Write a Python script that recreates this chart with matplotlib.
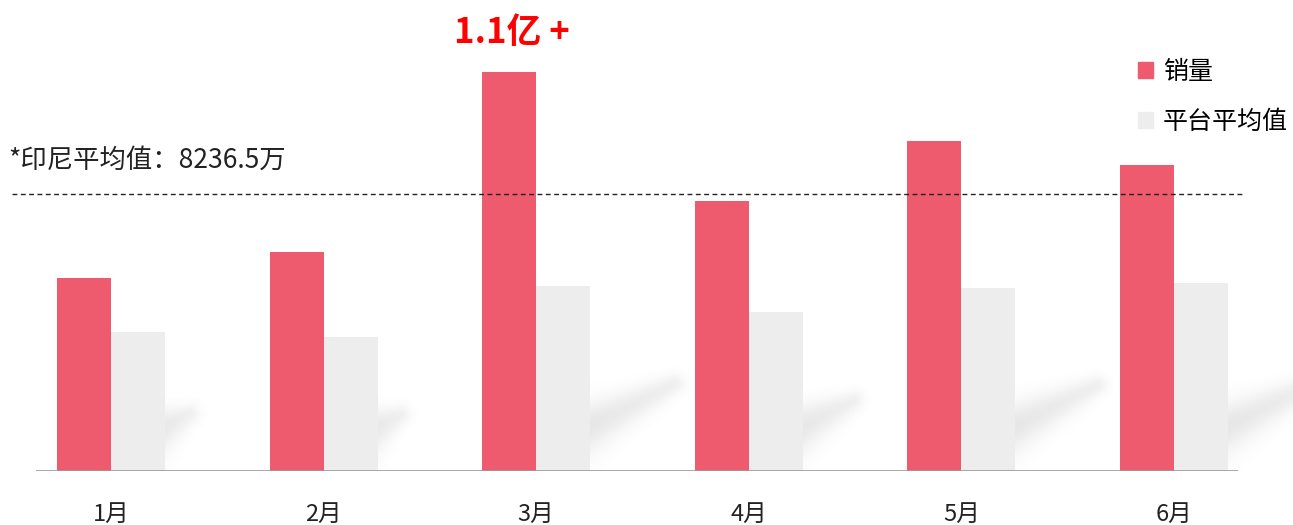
import numpy as np
import matplotlib
matplotlib.use('Agg')
import matplotlib.pyplot as plt
from matplotlib.patches import Patch

plt.rcParams['font.family'] = ['Noto Sans CJK SC', 'DejaVu Sans']

# datos (万)
meses = ['1月', '2月', '3月', '4月', '5月', '6月']
ventas = [5740, 6510, 11860, 8030, 9810, 9100]
plataforma = [4130, 3980, 5500, 4730, 5440, 5590]
promedio = 8236.5

rojo = '#EF5B6E'
gris = '#EDEDED'

fig = plt.figure(figsize=(12.93, 5.25), dpi=100)
ax = fig.add_axes([12/1293, 54/525, 1233/1293, 471/525])

x = np.arange(len(meses))
ancho = 0.254

# escala de pixeles
px_x = 212.6                 # pixeles por unidad en x
px_y = promedio / 277.0      # 万 por pixel

ax.set_xlim(-0.4657, 5.334)
ax.set_ylim(0, 471 * px_y)

# sombras difuminadas detras de las barras grises
for i in range(len(meses)):
    h = plataforma[i] / px_y
    L = max((h - 120) * 1.3, 22)
    borde = (x[i] + ancho) * px_x
    x0, y0 = borde - 15, 38.0
    x1, y1 = borde + L, 45.0 + 0.5 * L
    gx = np.arange(borde - 5, x1 + 35)
    gy = np.arange(0, y1 + 35)
    GX, GY = np.meshgrid(gx, gy)
    dx, dy = x1 - x0, y1 - y0
    t = ((GX - x0) * dx + (GY - y0) * dy) / (dx * dx + dy * dy)
    tc = np.clip(t, 0, 1)
    d = np.hypot(GX - (x0 + tc * dx), GY - (y0 + tc * dy))
    sigma = 17 * (1 - tc) + 7 * tc
    alfa = 0.2 * np.exp(-0.5 * (d / sigma) ** 2) * (1 - 0.4 * tc)
    img = np.zeros(GX.shape + (4,))
    img[..., :3] = 0.5
    img[..., 3] = alfa
    im = ax.imshow(img, origin='lower', aspect='auto', interpolation='bilinear',
                   extent=[gx[0] / px_x, gx[-1] / px_x, gy[0] * px_y, gy[-1] * px_y],
                   zorder=1)
    im.set_clip_on(False)

ax.bar(x - ancho, ventas, ancho, align='edge', color=rojo, zorder=3, label='销量')
ax.bar(x, plataforma, ancho, align='edge', color=gris, zorder=2, label='平台平均值')

ax.hlines(0, -0.353, 5.30, color='#9a9a9a', lw=1.2, zorder=4)
ax.axhline(promedio, color='#222222', lw=1, ls=(0, (3.5, 2.5)), zorder=4)

ax.text(-0.4845, promedio + 20 * px_y, '*印尼平均值：8236.5万', fontsize=19,
        color='#222222', ha='left', va='bottom')

i_max = int(np.argmax(ventas))
ax.text(x[i_max] - ancho + 0.14, ventas[i_max] + 22 * px_y, '1.1亿 +', fontsize=25,
        color='#FF0000', ha='center', va='bottom', fontweight='bold')

ax.set_xticks(x)
ax.set_xticklabels(meses, fontsize=17, color='#222222')
ax.tick_params(axis='x', length=0, pad=23)
ax.set_yticks([])
for s in ax.spines.values():
    s.set_visible(False)

handles = [Patch(color=rojo), Patch(color=gris)]
fig.legend(handles, ['销量', '平台平均值'], loc='upper left',
           bbox_to_anchor=(1133/1293, 1 - 54/525), frameon=False,
           fontsize=18, handlelength=0.6, handleheight=0.6,
           handletextpad=0.4, labelspacing=0.95, borderpad=0.2,
           borderaxespad=0)

fig.savefig('out.png', dpi=100)
